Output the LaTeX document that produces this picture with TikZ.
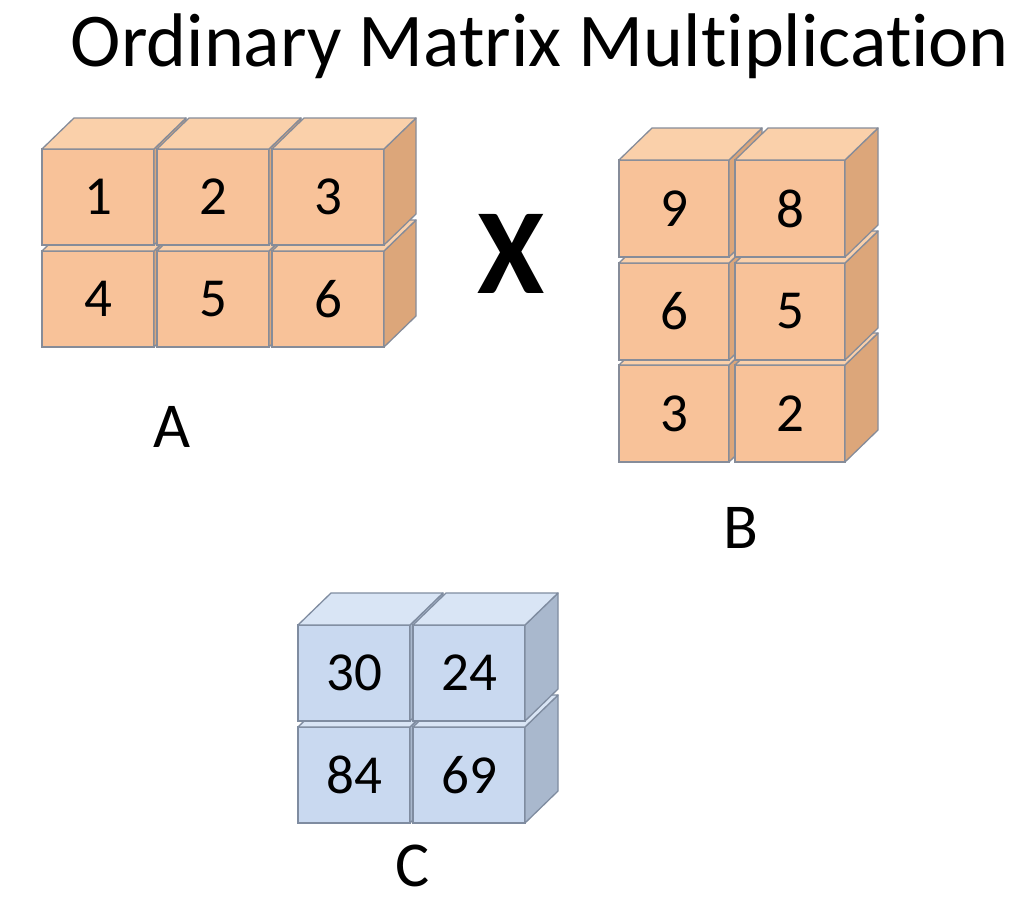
\documentclass[tikz,border=0pt]{standalone}
\usepackage{fontspec}
\setmainfont[Ligatures=NoCommon]{Carlito}
\definecolor{ofront}{HTML}{F8C299}
\definecolor{otop}{HTML}{FAD0AA}
\definecolor{oside}{HTML}{DCA67A}
\definecolor{oedge}{HTML}{868C99}
\definecolor{bfront}{HTML}{C9D9F0}
\definecolor{btop}{HTML}{D9E5F5}
\definecolor{bside}{HTML}{A9B8CD}
\definecolor{bedge}{HTML}{7F8CA0}
\tikzset{
  front/.style={draw, line width=1.3pt, inner sep=0pt, outer sep=0pt, font=\fontsize{55}{60}\selectfont, text=black},
  face/.style={draw, line width=1.3pt, line join=round},
  lbl/.style={font=\fontsize{64}{70}\selectfont, anchor=base},
}
% #1 name, #2 x, #3 y, #4 label, #5 prefix (o/b), #6 w, #7 h, #8 dx, #9 dy
\newcommand\mcube[9]{%
  \node[front, fill=#5front, draw=#5edge, minimum width=#6pt, minimum height=#7pt, anchor=north west] (#1) at (#2,#3) {#4};
  \draw[face, fill=#5side, draw=#5edge] (#1.north east) -- ++(#8,-#9) -- ++(0,#7) -- (#1.south east) -- cycle;
  \draw[face, fill=#5top, draw=#5edge] (#1.north west) -- ++(#8,-#9) -- ++(#6,0) -- (#1.north east) -- cycle;
}
\begin{document}
\begin{tikzpicture}[x=1pt, y=-1pt]
\useasboundingbox[fill=white] (0,0) rectangle (1016,915);
\node[font=\fontsize{76}{84}\selectfont, anchor=base] (title) at (540,67) {Ordinary Matrix Multiplication};
% Matrix A (bottom row first, left to right)
\mcube{a4}{42}{251}{4}{o}{112}{96}{32}{31}
\mcube{a5}{157}{251}{5}{o}{112}{96}{32}{31}
\mcube{a6}{272}{251}{6}{o}{112}{96}{32}{31}
\mcube{a1}{42}{149}{1}{o}{112}{96}{32}{31}
\mcube{a2}{157}{149}{2}{o}{112}{96}{32}{31}
\mcube{a3}{272}{149}{3}{o}{112}{96}{32}{31}
\node[lbl] (la) at (172,447) {A};
% X
\node[font=\fontsize{122}{130}\selectfont\bfseries] (times) at (511,254) {X};
% Matrix B
\mcube{b5}{619}{365}{3}{o}{110}{97}{33}{32}
\mcube{b6}{735}{365}{2}{o}{110}{97}{33}{32}
\mcube{b3}{619}{263}{6}{o}{110}{97}{33}{32}
\mcube{b4}{735}{263}{5}{o}{110}{97}{33}{32}
\mcube{b1}{619}{160}{9}{o}{110}{97}{33}{32}
\mcube{b2}{735}{160}{8}{o}{110}{97}{33}{32}
\node[lbl] (lb) at (741,548) {B};
% Matrix C
\mcube{c3}{298}{727}{84}{b}{112}{96}{33}{32}
\mcube{c4}{413}{727}{69}{b}{112}{96}{33}{32}
\mcube{c1}{298}{625}{30}{b}{112}{96}{33}{32}
\mcube{c2}{413}{625}{24}{b}{112}{96}{33}{32}
\node[lbl] (lc) at (413,886) {C};
\end{tikzpicture}
\end{document}
